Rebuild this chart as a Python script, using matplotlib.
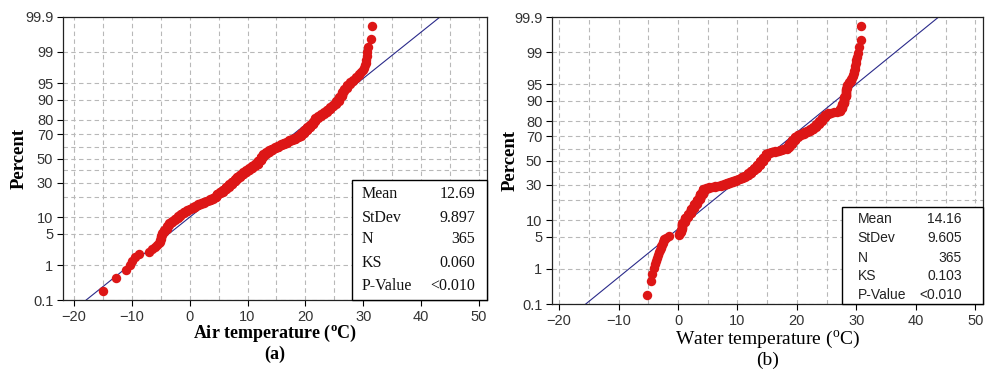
from statistics import NormalDist
import numpy as np
import matplotlib
matplotlib.use('Agg')
import matplotlib.pyplot as plt
from matplotlib.patches import Rectangle
from matplotlib.ticker import FixedLocator, NullFormatter

# daily temperatures (sorted), stored as value / number of days at that value
air_values = [-15.0, -12.8, -11.0, -10.4, -10.0, -9.5, -8.7, -7.0, -6.5, -6.0, -5.6,
              -5.3, -5.1, -5.0, -4.8, -4.5, -4.0, -3.5, -3.0, -2.5, -2.0, -1.7,
              -1.5, -1.0, -0.5, 0.0, 0.5, 1.0, 1.5, 2.0, 2.5, 3.0, 3.5, 4.0, 4.5,
              4.75, 5.25, 5.75, 6.25, 6.75, 7.25, 7.75, 8.25, 8.75, 9.25, 9.75,
              10.25, 10.75, 11.25, 11.75, 12.25, 12.75, 13.25, 13.75, 14.25, 14.75,
              15.25, 15.75, 16.25, 16.75, 17.25, 17.75, 18.25, 18.75, 19.25, 19.75,
              20.25, 20.75, 21.25, 21.75, 22.25, 22.75, 23.25, 23.75, 24.25, 24.75,
              25.25, 25.75, 26.25, 26.75, 27.25, 27.75, 28.25, 28.75, 29.25,
              29.7, 29.9, 30.1, 30.3, 30.4, 30.5, 30.6, 30.7, 30.85, 31.3, 31.6]
air_counts = [1, 1, 1, 1, 1, 1, 1, 1, 1, 1, 1,
              1, 2, 3, 2, 3, 4, 3, 3, 3, 3, 2,
              2, 3, 3, 2, 3, 2, 3, 2, 3, 2, 4, 3, 4,
              5, 4, 6, 7, 7, 7, 7, 7, 7, 7, 6,
              6, 7, 6, 11, 12, 8, 7, 6, 5, 4,
              5, 4, 4, 4, 4, 3, 5, 5, 7, 8,
              8, 7, 7, 7, 5, 4, 4, 4, 5, 4,
              5, 6, 6, 3, 4, 2, 2, 2, 2,
              1, 1, 1, 1, 1, 1, 1, 1, 1, 1, 1]

water_values = [-5.2, -4.5, -4.3, -4.1, -3.9, -3.7, -3.5, -3.3, -3.2, -3.0, -2.9,
                -2.8, -2.7, -2.6, -2.5, -2.4, -2.3, -2.0, -1.6, 0.1, 0.2, 0.3,
                0.45, 0.75, 1.25, 1.75, 2.25, 2.75, 3.25, 3.75, 4.25, 4.75, 5.25,
                5.75, 6.25, 6.75, 7.25, 7.75, 8.25, 8.75, 9.25, 9.75, 10.25, 10.75,
                11.25, 11.75, 12.25, 12.75, 13.25, 13.75, 14.25, 14.75, 15.25, 15.75,
                16.25, 16.75, 17.25, 17.75, 18.25, 18.75, 19.25, 19.75, 20.25, 20.75,
                21.25, 21.75, 22.25, 22.75, 23.25, 23.75, 24.25, 24.75, 25.25, 25.75,
                26.25, 26.75, 27.25, 27.6, 27.9, 28.2, 28.5, 28.8,
                29.1, 29.15, 29.25, 29.35, 29.45, 29.55, 29.6, 29.7, 29.8, 29.9,
                30.0, 30.1, 30.3, 30.5, 30.7, 30.85]
water_counts = [1, 1, 1, 1, 1, 1, 1, 1, 1, 1, 1,
                1, 1, 1, 1, 1, 1, 1, 1, 1, 1, 1,
                3, 8, 7, 6, 9, 9, 9, 13, 12, 3, 2,
                1, 2, 1, 2, 2, 4, 3, 3, 3, 3, 5,
                4, 7, 8, 8, 10, 11, 12, 12, 3, 3,
                2, 2, 3, 2, 5, 10, 10, 10, 5, 3,
                4, 4, 4, 5, 7, 7, 7, 6, 3, 1,
                1, 1, 5, 8, 9, 9, 4, 2,
                1, 1, 1, 1, 1, 1, 1, 1, 1, 1,
                1, 1, 1, 1, 1, 1]

stat_names = ['Mean', 'StDev', 'N', 'KS', 'P-Value']
air_stats = ['12.69', '9.897', '365', '0.060', '<0.010']
water_stats = ['14.16', '9.605', '365', '0.103', '<0.010']
air_mean, air_sd = 12.69, 9.897
water_mean, water_sd = 14.16, 9.605

pct_ticks = [0.1, 1, 5, 10, 30, 50, 70, 80, 90, 95, 99, 99.9]
pct_minor = [20, 40, 60]
x_ticks = [-20, -10, 0, 10, 20, 30, 40, 50]
x_minor = [-15, -5, 5, 15, 25, 35, 45]

RED = '#dd1616'
LINE = '#2a2a8a'
GRID = '#b8b8b8'

nd = NormalDist()
_ppf = np.vectorize(nd.inv_cdf, otypes=[float])
_cdf = np.vectorize(nd.cdf, otypes=[float])


def pct_to_z(p):
    p = np.clip(np.asarray(p, dtype=float) / 100.0, 1e-7, 1 - 1e-7)
    return _ppf(p)


def z_to_pct(z):
    return _cdf(np.asarray(z, dtype=float)) * 100.0


def prob_panel(ax, values, counts, mean, sd, stats, xlim, box, serif_box):
    temps = np.repeat(values, counts)
    n = len(temps)
    ranks = np.arange(1, n + 1)
    pct = (ranks - 0.3) / (n + 0.4) * 100   # median ranks (Benard)

    ax.set_yscale('function', functions=(pct_to_z, z_to_pct))
    ax.set_ylim(0.1, 99.9)
    ax.set_xlim(*xlim)

    # fitted normal line
    line_pct = np.array([0.1, 99.9])
    line_x = mean + sd * pct_to_z(line_pct)
    ax.plot(line_x, line_pct, color=LINE, lw=0.8, zorder=2)
    ax.plot(temps, pct, 'o', ms=6.8, mfc=RED, mec='none', zorder=3)

    ax.yaxis.set_major_locator(FixedLocator(pct_ticks))
    ax.yaxis.set_minor_locator(FixedLocator(pct_minor))
    ax.yaxis.set_minor_formatter(NullFormatter())
    ax.set_yticklabels([f'{t:g}' for t in pct_ticks])
    ax.xaxis.set_major_locator(FixedLocator(x_ticks))
    ax.xaxis.set_minor_locator(FixedLocator(x_minor))
    ax.grid(True, which='both', color=GRID, ls=(0, (4, 3)), lw=0.8, zorder=0)
    ax.tick_params(which='major', direction='out', length=4, width=0.8,
                   labelsize=10.5, labelcolor='#333333', pad=3)
    ax.tick_params(which='minor', length=0)
    for lab in ax.get_xticklabels() + ax.get_yticklabels():
        lab.set_family(['Liberation Sans Narrow', 'Liberation Sans'])
    for sp in ax.spines.values():
        sp.set_color('#222222')
        sp.set_linewidth(0.9)

    # statistics box
    x0, y0, lab_x, val_x, rows = box
    ax.add_patch(Rectangle((x0, 0), 1 - x0, y0, transform=ax.transAxes,
                           facecolor='white', edgecolor='black', lw=1.0,
                           zorder=5, clip_on=False))
    if serif_box:
        kw = dict(family='Liberation Serif', fontsize=11.5, color='#111111')
    else:
        kw = dict(family='Liberation Sans', fontsize=10, color='#222222')
    for name, val, yy in zip(stat_names, stats, rows):
        ax.text(lab_x, yy, name, transform=ax.transAxes, ha='left',
                va='center', zorder=6, **kw)
        ax.text(val_x, yy, val, transform=ax.transAxes, ha='right',
                va='center', zorder=6, **kw)


fig = plt.figure(figsize=(9.85, 3.69), dpi=100)
ax1 = fig.add_axes([63 / 985, 1 - 300 / 369, 424 / 985, 283 / 369])
ax2 = fig.add_axes([552 / 985, 1 - 304 / 369, 431 / 985, 287 / 369])

prob_panel(ax1, air_values, air_counts, air_mean, air_sd, air_stats,
           (-21.9, 51.4),
           (0.682, 0.424, 0.705, 0.972, [0.374, 0.291, 0.214, 0.132, 0.051]),
           serif_box=True)
prob_panel(ax2, water_values, water_counts, water_mean, water_sd, water_stats,
           (-21.2, 51.3),
           (0.672, 0.339, 0.709, 0.951, [0.295, 0.230, 0.161, 0.0965, 0.0324]),
           serif_box=False)

serif = 'Liberation Serif'
ax1.text(-0.104, 0.5, 'Percent', transform=ax1.transAxes, rotation=90,
         ha='center', va='center', family=serif, weight='bold', fontsize=13.5)
ax2.text(-0.097, 0.5, 'Percent', transform=ax2.transAxes, rotation=90,
         ha='center', va='center', family=serif, weight='bold', fontsize=13.5)

ax1.text(0.5, -0.117, r'Air temperature ($^{\mathregular{o}}$C)',
         transform=ax1.transAxes, ha='center', va='center',
         family=serif, weight='bold', fontsize=13)
ax1.text(0.5, -0.191, '(a)', transform=ax1.transAxes, ha='center',
         va='center', family=serif, weight='bold', fontsize=13)
ax2.text(0.5, -0.125, r'Water temperature ($^{\mathregular{o}}$C)',
         transform=ax2.transAxes, ha='center', va='center',
         family=serif, fontsize=14)
ax2.text(0.5, -0.195, '(b)', transform=ax2.transAxes, ha='center',
         va='center', family=serif, fontsize=14)

fig.savefig('out.png', dpi=100)
